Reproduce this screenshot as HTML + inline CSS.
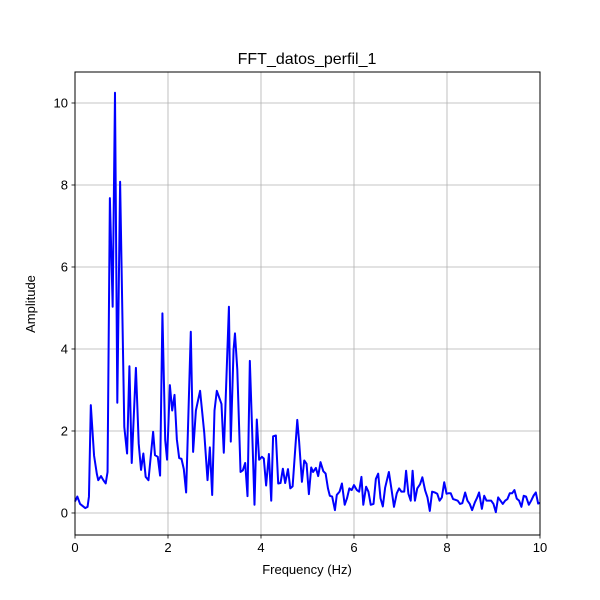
<!DOCTYPE html>
<html><head><meta charset="utf-8"><style>
html,body{margin:0;padding:0;background:#fff;}
svg{display:block;font-family:"Liberation Sans","DejaVu Sans",sans-serif;}
</style></head><body>
<svg id="chart" width="600" height="600" viewBox="0 0 600 600">
<rect width="600" height="600" fill="#fff"/>
<g id="grid"></g>
<g id="series"></g>
<rect x="75" y="72" width="465" height="463" fill="none" stroke="#000" stroke-width="1"/>
<g id="ticks"></g>
<text x="307" y="64" text-anchor="middle" font-size="16">FFT_datos_perfil_1</text>
<text x="307" y="574" text-anchor="middle" font-size="13">Frequency (Hz)</text>
<text x="35" y="304" text-anchor="middle" font-size="13" transform="rotate(-90 35 304)">Amplitude</text>
</svg>
<script>
const freq = [0,.05,.11,.22,.27,.30,.34,.41,.47,.50,.56,.61,.66,.70,.75,.81,.86,.91,.97,1.06,1.12,1.17,1.22,1.31,1.37,1.42,1.47,1.52,1.58,1.68,1.72,1.78,1.83,1.88,1.94,1.98,2.04,2.09,2.14,2.19,2.24,2.29,2.34,2.39,2.49,2.54,2.60,2.69,2.78,2.85,2.90,2.95,3.00,3.05,3.15,3.20,3.31,3.35,3.41,3.44,3.49,3.56,3.61,3.66,3.71,3.76,3.81,3.86,3.91,3.96,4.02,4.06,4.11,4.17,4.22,4.26,4.32,4.37,4.42,4.47,4.52,4.58,4.63,4.68,4.78,4.82,4.88,4.93,4.98,5.03,5.08,5.12,5.18,5.23,5.28,5.34,5.39,5.44,5.48,5.53,5.59,5.63,5.69,5.74,5.80,5.85,5.90,5.95,6.00,6.06,6.11,6.16,6.20,6.26,6.31,6.36,6.42,6.47,6.52,6.57,6.62,6.67,6.75,6.81,6.86,6.92,6.97,7.02,7.08,7.12,7.17,7.22,7.26,7.31,7.36,7.42,7.47,7.53,7.58,7.63,7.68,7.74,7.79,7.84,7.89,7.94,7.99,8.03,8.08,8.13,8.18,8.23,8.28,8.33,8.39,8.44,8.49,8.54,8.60,8.65,8.69,8.75,8.80,8.85,8.90,8.95,9.00,9.05,9.10,9.15,9.20,9.25,9.30,9.35,9.40,9.45,9.50,9.55,9.60,9.65,9.70,9.76,9.81,9.86,9.91,9.96,10];
const amplitude = [.28,.4,.22,.12,.15,.4,2.63,1.4,.95,.8,.9,.8,.72,1.0,7.68,5.03,10.25,2.69,8.08,2.1,1.45,3.58,1.22,3.54,1.69,1.05,1.45,.88,.8,1.98,1.41,1.37,.91,4.87,1.78,1.3,3.12,2.5,2.88,1.8,1.34,1.32,1.07,.5,4.42,1.49,2.5,2.98,1.95,.8,1.6,.44,2.5,2.98,2.66,1.47,5.03,1.74,3.98,4.38,3.5,1.0,1.04,1.22,.41,3.71,2.0,.2,2.28,1.3,1.37,1.33,.67,1.44,.3,1.87,1.89,.72,.73,1.08,.73,1.07,.6,.65,2.27,1.74,.76,1.28,1.2,.46,1.11,1.0,1.1,.9,1.24,1.02,.96,.6,.42,.4,.07,.44,.52,.72,.2,.36,.6,.56,.68,.56,.52,.88,.2,.64,.52,.2,.22,.83,.96,.36,.16,.62,1.0,.55,.15,.48,.6,.52,.52,1.03,.47,.3,1.03,.3,.6,.7,.87,.55,.38,.05,.52,.5,.47,.3,.38,.75,.47,.48,.48,.34,.32,.3,.22,.24,.5,.3,.22,.07,.26,.38,.5,.1,.42,.3,.3,.3,.22,.02,.38,.3,.22,.3,.34,.48,.48,.56,.35,.3,.15,.42,.4,.2,.3,.42,.5,.23,.25];
const xTicks = [0,2,4,6,8,10];
const yTicks = [0,2,4,6,8,10];

const NS = "http://www.w3.org/2000/svg";
const L = 75, R = 540, T = 72, B = 535;
const xMin = 0, xMax = 10, yMin = -0.537, yMax = 10.756;
function sx(v){ return L + (v - xMin) / (xMax - xMin) * (R - L); }
function sy(v){ return B - (v - yMin) / (yMax - yMin) * (B - T); }
function mk(tag, attrs, parent){ const e = document.createElementNS(NS, tag); for (const k in attrs) e.setAttribute(k, attrs[k]); parent.appendChild(e); return e; }

const grid = document.getElementById('grid');
const ticks = document.getElementById('ticks');
xTicks.forEach(v => {
  const x = sx(v);
  const g = mk('line', {x1:x, x2:x, y1:T, y2:B, stroke:'#b0b0b0', 'stroke-width':0.8}, grid);
  
  
  const t = mk('line', {x1:x, x2:x, y1:B, y2:B+3.5, stroke:'#000', 'stroke-width':0.8}, ticks);
  
  
  const lb = mk('text', {x:x, y:B+17, 'text-anchor':'middle', 'font-size':13}, ticks);
  lb.textContent = v;
  
  
});
yTicks.forEach(v => {
  const y = sy(v);
  const g = mk('line', {x1:L, x2:R, y1:y, y2:y, stroke:'#b0b0b0', 'stroke-width':0.8}, grid);
  
  
  const t = mk('line', {x1:L-3.5, x2:L, y1:y, y2:y, stroke:'#000', 'stroke-width':0.8}, ticks);
  
  
  const lb = mk('text', {x:L-7, y:y+4.5, 'text-anchor':'end', 'font-size':13}, ticks);
  lb.textContent = v;
  
  
});
const pts = freq.map((f,i) => sx(f).toFixed(2) + ',' + sy(amplitude[i]).toFixed(2)).join(' ');
const line = mk('polyline', {points:pts, fill:'none', stroke:'#0000ff', 'stroke-width':2, 'stroke-linejoin':'round'}, document.getElementById('series'));


</script>
</body></html>
